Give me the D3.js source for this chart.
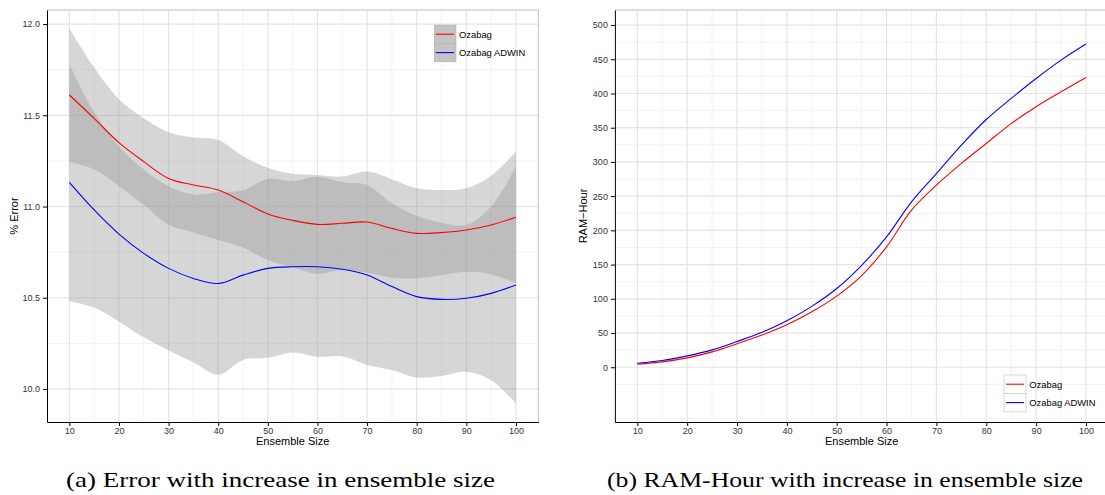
<!DOCTYPE html>
<html>
<head>
<meta charset="utf-8">
<script src="https://cdn.jsdelivr.net/npm/d3@7"></script>
<style>
  body { margin: 0; background: #fff; }
  .tick text { font-family: "Liberation Sans", Arial, sans-serif; font-size: 9px; fill: #333; }
  .tick line { stroke: #000; }
  .domain { stroke: #000; }
  .axis-title { font-family: "Liberation Sans", Arial, sans-serif; font-size: 11px; fill: #000; }
  .legend-text { font-family: "Liberation Sans", Arial, sans-serif; font-size: 9.4px; fill: #000; }
  .caption { font-family: "Liberation Serif", "Times New Roman", serif; font-size: 22px; fill: #000; }
</style>
</head>
<body>
<div id="chart"></div>
<script>
// data
const ensembleSize = [10, 15, 20, 25, 30, 35, 40, 45, 50, 55, 60, 65, 70, 75, 80, 85, 90, 95, 100];

// panel (a): smoothed % error and half width of its confidence band
const errOzabag   = [11.611, 11.483, 11.350, 11.246, 11.154, 11.118, 11.090, 11.026, 10.959, 10.924,
                     10.902, 10.908, 10.915, 10.880, 10.853, 10.857, 10.871, 10.899, 10.941];
const errOzabagCI = [0.365, 0.279, 0.238, 0.238, 0.253, 0.260, 0.274, 0.250, 0.253, 0.255,
                     0.271, 0.256, 0.277, 0.270, 0.247, 0.233, 0.229, 0.270, 0.360];
const errAdwin    = [11.132, 10.981, 10.849, 10.743, 10.661, 10.606, 10.578, 10.624, 10.661, 10.670,
                     10.670, 10.656, 10.625, 10.561, 10.506, 10.491, 10.497, 10.524, 10.570];
const errAdwinCI  = [0.651, 0.535, 0.480, 0.460, 0.450, 0.460, 0.500, 0.465, 0.490, 0.470,
                     0.493, 0.477, 0.493, 0.457, 0.443, 0.420, 0.402, 0.476, 0.650];

// panel (b): RAM-Hour
const ramOzabag = [4.4, 7.8, 13.7, 22.5, 34.3, 47, 62, 81, 104, 134, 176, 229.5, 266, 297.8, 327, 356, 380.6, 402.5, 423.5];
const ramAdwin  = [5.9, 9.8, 16.6, 25.4, 37.6, 51, 68, 89, 115, 149, 190.5, 241.7, 283, 324.6, 362, 392.8, 422, 448.8, 472.2];

const seriesNames = ["Ozabag", "Ozabag ADWIN"];
const sizeTicks = [10, 20, 30, 40, 50, 60, 70, 80, 90, 100];
const errTicks = [10.0, 10.5, 11.0, 11.5, 12.0];
const ramTicks = [0, 50, 100, 150, 200, 250, 300, 350, 400, 450, 500];
const captions = ["(a) Error with increase in ensemble size", "(b) RAM-Hour with increase in ensemble size"];

const colors = ["#ff0000", "#0000ff"];
const plotTop = 10, plotBottom = 422;

const svg = d3.select("#chart")
  .append("svg")
    .attr("width", 1105)
    .attr("height", 495);

// draws grid, axes and frame of one panel, returns its scales
function panel(left, right, yDomain, yTicks, yMinor, fmt, yTitle, yTitleX) {
  const x = d3.scaleLinear().domain([5.5, 104.5]).range([left, right]);
  const y = d3.scaleLinear().domain(yDomain).range([plotBottom, plotTop]);
  const g = svg.append("g");

  const xMinor = d3.range(15, 100, 10);
  g.append("g").selectAll("line").data(xMinor).join("line")
    .attr("x1", d => x(d)).attr("x2", d => x(d))
    .attr("y1", plotTop).attr("y2", plotBottom)
    .attr("stroke", "#f3f3f3");
  g.append("g").selectAll("line").data(yMinor).join("line")
    .attr("x1", left).attr("x2", right)
    .attr("y1", d => y(d)).attr("y2", d => y(d))
    .attr("stroke", "#f3f3f3");
  g.append("g").selectAll("line").data(sizeTicks).join("line")
    .attr("x1", d => x(d)).attr("x2", d => x(d))
    .attr("y1", plotTop).attr("y2", plotBottom)
    .attr("stroke", "#e4e4e4").attr("stroke-width", 1.2);
  g.append("g").selectAll("line").data(yTicks).join("line")
    .attr("x1", left).attr("x2", right)
    .attr("y1", d => y(d)).attr("y2", d => y(d))
    .attr("stroke", "#e4e4e4").attr("stroke-width", 1.2);

  // frame on top and right
  g.append("path")
    .attr("d", `M${left},${plotTop}H${right}V${plotBottom}`)
    .attr("fill", "none").attr("stroke", "#bdbdbd");

  const marks = svg.append("g");

  const axes = svg.append("g");
  axes.append("g")
    .attr("transform", `translate(0, ${plotBottom})`)
    .call(d3.axisBottom(x).tickValues(sizeTicks).tickSize(4).tickSizeOuter(0).tickPadding(2));
  axes.append("g")
    .attr("transform", `translate(${left}, 0)`)
    .call(d3.axisLeft(y).tickValues(yTicks).tickFormat(fmt).tickSize(4).tickSizeOuter(0).tickPadding(3));

  axes.append("text")
    .attr("class", "axis-title")
    .attr("x", (left + right) / 2)
    .attr("y", 445)
    .attr("text-anchor", "middle")
    .text("Ensemble Size");
  axes.append("text")
    .attr("class", "axis-title")
    .attr("transform", `translate(${yTitleX}, ${(plotTop + plotBottom) / 2}) rotate(-90)`)
    .attr("text-anchor", "middle")
    .text(yTitle);

  return {x, y, marks, axes};
}

// ---- panel (a)
const a = panel(47, 538.3, [9.819, 12.077], errTicks, [10.25, 10.75, 11.25, 11.75],
  d3.format(".1f"), "% Error", 18);

const errSeries = [
  {mean: errOzabag, ci: errOzabagCI},
  {mean: errAdwin, ci: errAdwinCI}
];
const curve = d3.curveCatmullRom.alpha(0.5);

const band = d3.area()
  .x((d, i) => a.x(ensembleSize[i]))
  .y0(d => a.y(d[0]))
  .y1(d => a.y(d[1]))
  .curve(curve);

errSeries.forEach(s => {
  a.marks.append("path")
    .attr("d", band(s.mean.map((m, i) => [m - s.ci[i], m + s.ci[i]])))
    .attr("fill", "#999999")
    .attr("fill-opacity", 0.4);
});
errSeries.forEach((s, k) => {
  a.marks.append("path")
    .attr("d", d3.line().x((d, i) => a.x(ensembleSize[i])).y(d => a.y(d)).curve(curve)(s.mean))
    .attr("fill", "none")
    .attr("stroke", colors[k])
    .attr("stroke-width", 1.1);
});

// legend (a)
seriesNames.forEach((name, k) => {
  const ly = 25 + k * 18.4;
  a.axes.append("rect")
    .attr("x", 434.3).attr("y", ly).attr("width", 21.7).attr("height", 18.4)
    .attr("fill", "#c4c4c4").attr("stroke", "#b2b2b2").attr("stroke-width", 0.6);
  a.axes.append("line")
    .attr("x1", 435.7).attr("x2", 454).attr("y1", ly + 9.2).attr("y2", ly + 9.2)
    .attr("stroke", colors[k]).attr("stroke-width", 1.1);
  a.axes.append("text")
    .attr("class", "legend-text")
    .attr("x", 459).attr("y", ly + 12.6)
    .text(name);
});

// ---- panel (b)
const b = panel(614.9, 1108.4, [-80, 522], ramTicks, d3.range(-75, 500, 50),
  d3.format("d"), "RAM\u2212Hour", 587);

[ramOzabag, ramAdwin].forEach((s, k) => {
  b.marks.append("path")
    .attr("d", d3.line().x((d, i) => b.x(ensembleSize[i])).y(d => b.y(d)).curve(curve)(s))
    .attr("fill", "none")
    .attr("stroke", colors[k])
    .attr("stroke-width", 1.1);
});

// legend (b)
seriesNames.forEach((name, k) => {
  const ly = 375 + k * 18.4;
  b.axes.append("rect")
    .attr("x", 1004).attr("y", ly).attr("width", 22).attr("height", 18.4)
    .attr("fill", "#fff").attr("stroke", "#cccccc").attr("stroke-width", 0.8);
  b.axes.append("line")
    .attr("x1", 1006).attr("x2", 1024).attr("y1", ly + 9.2).attr("y2", ly + 9.2)
    .attr("stroke", colors[k]).attr("stroke-width", 1.1);
  b.axes.append("text")
    .attr("class", "legend-text")
    .attr("x", 1029.3).attr("y", ly + 12.6)
    .text(name);
});

// captions under the panels
const capBox = [[66, 495], [607, 1083]];
captions.forEach((c, k) => {
  svg.append("text")
    .attr("class", "caption")
    .attr("x", capBox[k][0])
    .attr("y", 487)
    .attr("textLength", capBox[k][1] - capBox[k][0])
    .attr("lengthAdjust", "spacingAndGlyphs")
    .text(c);
});
</script>
</body>
</html>
